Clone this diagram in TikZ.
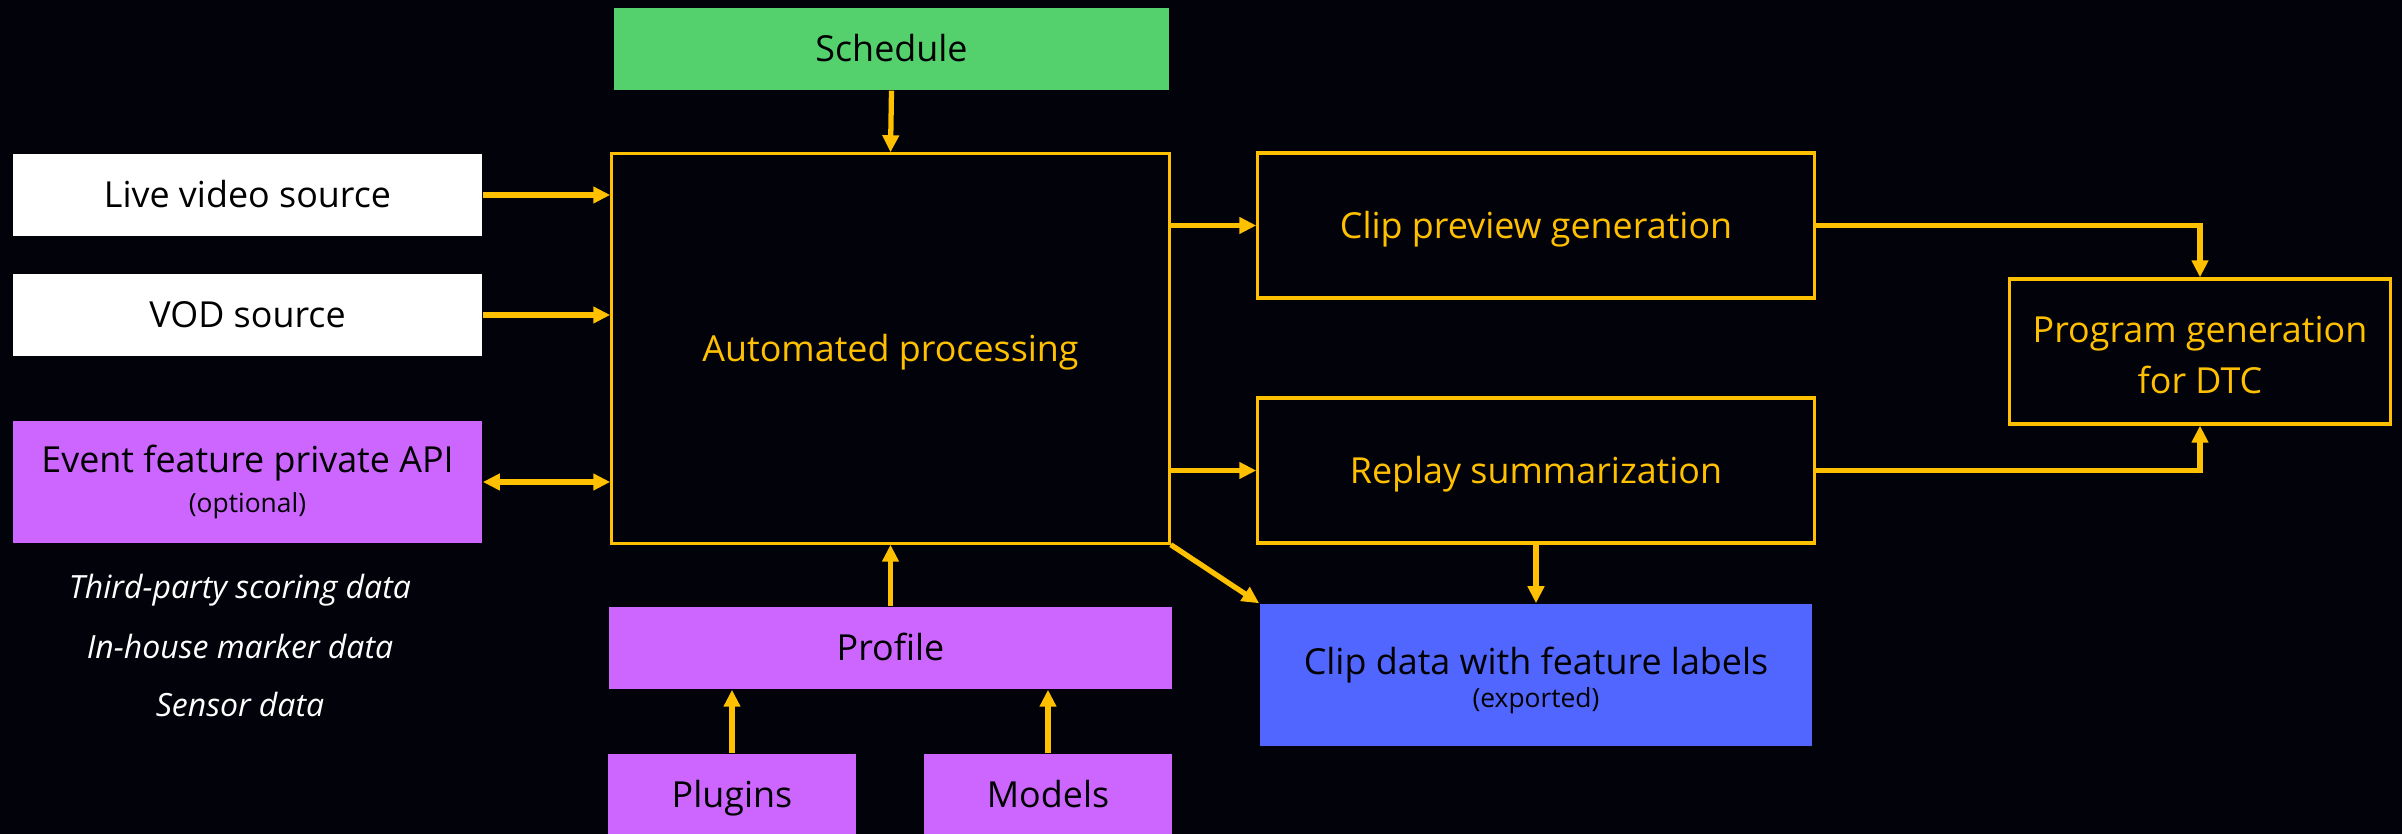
\documentclass[tikz,border=0pt]{standalone}
\usepackage{fontspec}
\setmainfont{Open Sans}
\usetikzlibrary{arrows.meta}
\definecolor{bg}{RGB}{2,2,10}
\definecolor{org}{RGB}{255,192,0}
\definecolor{grn}{RGB}{84,209,108}
\definecolor{pur}{RGB}{204,102,255}
\definecolor{blu}{RGB}{80,102,255}
\begin{document}
\begin{tikzpicture}[x=0.01cm,y=-0.01cm,
  box/.style={inner sep=0pt, align=center, font=\fontsize{10.2}{14.4}\selectfont},
  one/.style={text height=7.3pt, text depth=0pt},
  fillbox/.style={box, text=black},
  outbox/.style={box, draw=org, line width=0.9pt, text=org},
  note/.style={inner sep=0pt, text=white, font=\fontsize{9.1}{12}\selectfont\itshape},
  arr/.style={draw=org, line width=1.5pt, -{Triangle[length=0.17cm,width=0.16cm]}},
  darr/.style={draw=org, line width=1.5pt, {Triangle[length=0.17cm,width=0.16cm]}-{Triangle[length=0.17cm,width=0.16cm]}}]
\fill[bg] (0,0) rectangle (2402,834);
\useasboundingbox (0,0) rectangle (2402,834);

\node[fillbox, one, fill=grn, minimum width=5.55cm, minimum height=0.82cm] (sched) at (891.5,49) {Schedule};
\node[fillbox, one, fill=white, minimum width=4.69cm, minimum height=0.82cm] (live) at (247.5,195) {Live video source};
\node[fillbox, one, fill=white, minimum width=4.69cm, minimum height=0.82cm] (vod) at (247.5,315) {VOD source};
\node[fillbox, fill=pur, minimum width=4.69cm, minimum height=1.22cm] (event) at (247.5,482) {Event feature private API\\[-3pt]{\fontsize{7.5}{9}\selectfont (optional)}};
\node[outbox, one, minimum width=5.57cm, minimum height=3.89cm] (auto) at (890.5,348.5) {Automated processing};
\node[fillbox, one, fill=pur, minimum width=5.63cm, minimum height=0.82cm] (prof) at (890.5,648) {Profile};
\node[fillbox, one, fill=pur, minimum width=2.48cm, minimum height=0.82cm] (plug) at (732,795) {Plugins};
\node[fillbox, one, fill=pur, minimum width=2.48cm, minimum height=0.82cm] (mod) at (1048,795) {Models};
\node[outbox, one, minimum width=5.56cm, minimum height=1.45cm] (cp) at (1536,225.5) {Clip preview generation};
\node[outbox, one, minimum width=5.56cm, minimum height=1.45cm] (rs) at (1536,470.5) {Replay summarization};
\node[fillbox, fill=blu, minimum width=5.52cm, minimum height=1.42cm] (cd) at (1536,675) {\rule{0pt}{10.7pt}Clip data with feature labels\\[-5pt]{\fontsize{7.5}{9}\selectfont (exported)}};
\node[outbox, minimum width=3.80cm, minimum height=1.45cm] (prog) at (2200,351.5) {\rule{0pt}{9.5pt}Program generation\\for DTC};

\node[note] (n1) at (240,590) {Third-party scoring data};
\node[note] (n2) at (240,647) {In-house marker data};
\node[note] (n3) at (240,705) {Sensor data};

\draw[arr] (sched.south) -- (auto.north);
\draw[arr] (live.east) -- (live.east -| auto.west);
\draw[arr] (vod.east) -- (vod.east -| auto.west);
\draw[darr] (event.east) -- (event.east -| auto.west);
\draw[arr] (cp.west -| auto.east) -- (cp.west);
\draw[arr] (rs.west -| auto.east) -- (rs.west);
\draw[arr] (auto.south east) -- (cd.north west);
\draw[arr] (rs.south) -- (cd.north);
\draw[arr] (cp.east) -| (prog.north);
\draw[arr] (rs.east) -| (prog.south);
\draw[arr] (prof.north) -- (auto.south);
\draw[arr] (plug.north) -- (plug.north |- prof.south);
\draw[arr] (mod.north) -- (mod.north |- prof.south);
\end{tikzpicture}
\end{document}
